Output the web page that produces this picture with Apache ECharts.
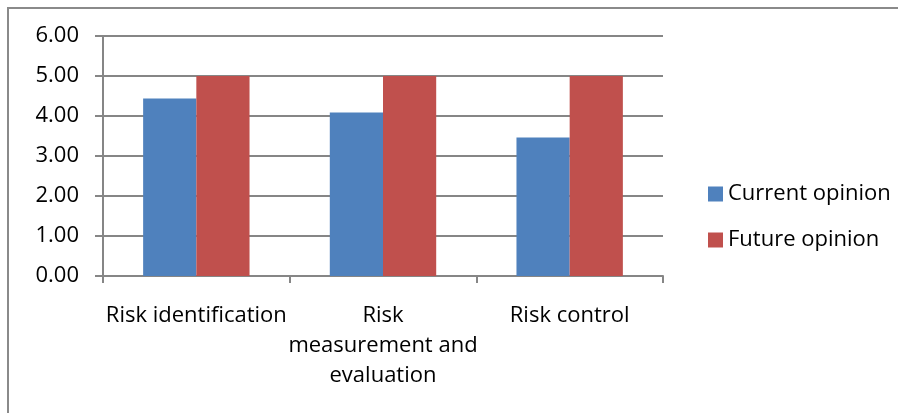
<!DOCTYPE html>
<html>
<head>
<meta charset="utf-8">
<script src="https://cdn.jsdelivr.net/npm/echarts@6/dist/echarts.min.js"></script>
<style>html,body{margin:0;padding:0;background:#fff;}#c{width:898px;height:413px;}</style>
</head>
<body>
<div id="c"></div>
<script>
var categories = ["Risk identification", "Risk\nmeasurement and\nevaluation", "Risk control"];
var currentOpinion = [4.44, 4.09, 3.46];
var futureOpinion = [5.00, 5.00, 5.00];
var seriesNames = ["Current opinion", "Future opinion"];

var chart = echarts.init(document.getElementById('c'), null, {renderer: 'canvas'});
var font = '"Open Sans", sans-serif';
chart.setOption({
  animation: false,
  backgroundColor: '#fff',
  graphic: [
    {type: 'rect', left: 7, top: 7, shape: {x: 0, y: 0, width: 891, height: 2}, style: {fill: '#8a8a8a'}},
    {type: 'rect', left: 7, top: 7, shape: {x: 0, y: 0, width: 2, height: 406}, style: {fill: '#8a8a8a'}}
  ],
  grid: {left: 103, right: 235, top: 36, bottom: 137, containLabel: false},
  legend: {
    orient: 'vertical',
    left: 703,
    top: 178,
    itemWidth: 15,
    itemHeight: 15,
    itemGap: 24,
    icon: 'rect',
    data: seriesNames,
    textStyle: {fontFamily: font, fontSize: 22, color: '#000', lineHeight: 22}
  },
  xAxis: {
    type: 'category',
    data: categories,
    axisLine: {lineStyle: {color: '#868686', width: 2}},
    axisTick: {show: true, length: 7, lineStyle: {color: '#868686', width: 2}},
    axisLabel: {fontFamily: font, fontSize: 22, color: '#000', margin: 25, lineHeight: 30, interval: 0}
  },
  yAxis: {
    type: 'value',
    min: 0,
    max: 6,
    interval: 1,
    axisLine: {show: true, lineStyle: {color: '#868686', width: 2}},
    axisTick: {show: true, length: 8, lineStyle: {color: '#868686', width: 2}},
    splitLine: {lineStyle: {color: '#868686', width: 2}},
    axisLabel: {fontFamily: font, fontSize: 22, color: '#000', margin: 24, formatter: function (v) { return v.toFixed(2); }}
  },
  series: [
    {name: seriesNames[0], type: 'bar', data: currentOpinion, barGap: '0%', barCategoryGap: '43%', itemStyle: {color: '#4F81BD'}},
    {name: seriesNames[1], type: 'bar', data: futureOpinion, barGap: '0%', barCategoryGap: '43%', itemStyle: {color: '#C0504D'}}
  ]
});
</script>
</body>
</html>
